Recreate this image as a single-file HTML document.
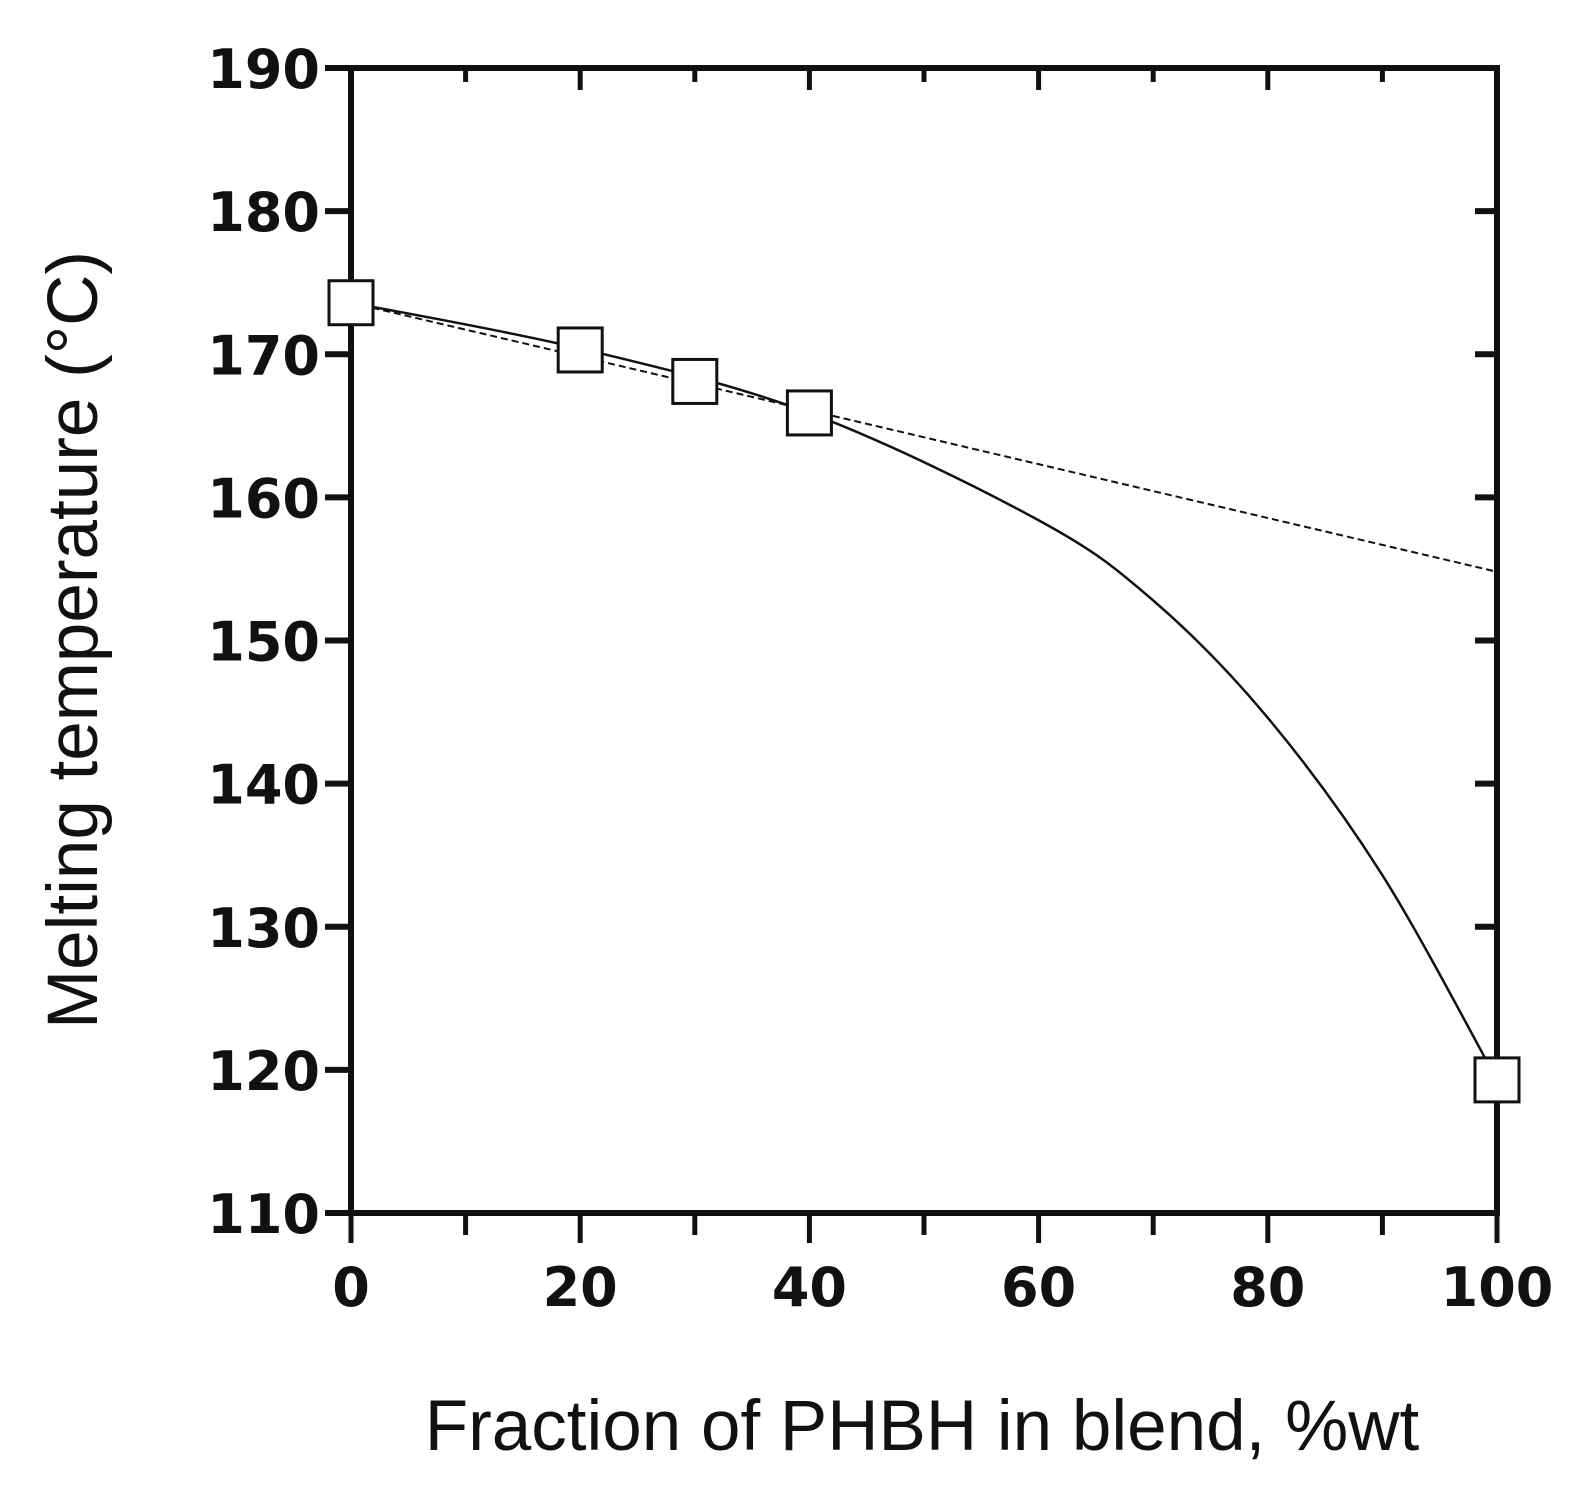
<!DOCTYPE html>
<html><head><meta charset="utf-8"><style>body{margin:0;background:#fff}svg{display:block}</style></head>
<body>
<svg id="chart" width="1590" height="1507" viewBox="0 0 1590 1507" xmlns="http://www.w3.org/2000/svg">
<g id="plot"></g>
<text transform="translate(97,640) rotate(-90)" text-anchor="middle" font-family="Liberation Sans, sans-serif" font-size="71" fill="#111">Melting temperature (°C)</text>
<text x="922" y="1450" text-anchor="middle" font-family="Liberation Sans, sans-serif" font-size="71" fill="#111">Fraction of PHBH in blend, %wt</text>
</svg>
<script>
const xTicks = [0, 20, 40, 60, 80, 100];
const yTicks = [110, 120, 130, 140, 150, 160, 170, 180, 190];
const pointX = [0, 20, 30, 40, 100];
const pointY = [173.6, 170.3, 168.1, 165.9, 119.3];
const dashX = [0, 100];
const dashY = [173.6, 154.8];
const curveX = [0, 20, 40, 60, 70, 80, 90, 100];
const curveY = [173.6, 170.4, 165.9, 158.4, 152.8, 144.6, 133.6, 119.3];

const X0 = 351, X1 = 1497, Y0 = 1213, Y1 = 68;
const sx = v => X0 + (v - 0) / 100 * (X1 - X0);
const sy = v => Y0 - (v - 110) / 80 * (Y0 - Y1);
const NS = 'http://www.w3.org/2000/svg';
const g = document.getElementById('plot');
function mk(tag, attrs) { const e = document.createElementNS(NS, tag); for (const k in attrs) e.setAttribute(k, attrs[k]); g.appendChild(e); return e; }

let fr = mk('rect', {x: X0, y: Y1, width: X1 - X0, height: Y0 - Y1, fill: 'none', stroke: '#111', 'stroke-width': 6});



for (let v = 0; v <= 100; v += 10) {
  const major = v % 20 === 0;
  let t = mk('line', {x1: sx(v), x2: sx(v), y1: Y0, y2: Y0 + (major ? 30 : 22), stroke: '#111', 'stroke-width': 5});
  
  
  let t2 = mk('line', {x1: sx(v), x2: sx(v), y1: Y1, y2: Y1 + (major ? 22 : 14), stroke: '#111', 'stroke-width': 5});
  
  
}
xTicks.forEach(v => {
  let l = mk('text', {x: sx(v), y: 1306, 'text-anchor': 'middle', 'font-family': 'DejaVu Sans, sans-serif', 'font-weight': 'bold', 'font-size': 54, fill: '#111'});
  l.textContent = v;
  
  
});
yTicks.forEach(v => {
  let t = mk('line', {x1: X0 - 26, x2: X0, y1: sy(v), y2: sy(v), stroke: '#111', 'stroke-width': 6});
  
  
  let t2 = mk('line', {x1: X1 - 22, x2: X1, y1: sy(v), y2: sy(v), stroke: '#111', 'stroke-width': 6});
  
  
  let l = mk('text', {x: 320, y: sy(v) + 20, 'text-anchor': 'end', 'font-family': 'DejaVu Sans, sans-serif', 'font-weight': 'bold', 'font-size': 54, fill: '#111'});
  l.textContent = v;
  
  
});

let dl = mk('line', {x1: sx(dashX[0]), y1: sy(dashY[0]), x2: sx(dashX[1]), y2: sy(dashY[1]), stroke: '#111', 'stroke-width': 2, 'stroke-dasharray': '7,4'});



const P = curveX.map((x, i) => [sx(x), sy(curveY[i])]);
let d = 'M' + P[0][0] + ',' + P[0][1];
for (let i = 0; i < P.length - 1; i++) {
  const p0 = P[Math.max(0, i - 1)], p1 = P[i], p2 = P[i + 1], p3 = P[Math.min(P.length - 1, i + 2)];
  const c1 = [p1[0] + (p2[0] - p0[0]) / 6, p1[1] + (p2[1] - p0[1]) / 6];
  const c2 = [p2[0] - (p3[0] - p1[0]) / 6, p2[1] - (p3[1] - p1[1]) / 6];
  d += ` C${c1[0]},${c1[1]} ${c2[0]},${c2[1]} ${p2[0]},${p2[1]}`;
}
let cv = mk('path', {d: d, fill: 'none', stroke: '#111', 'stroke-width': 2.5});



pointX.forEach((x, i) => {
  let r = mk('rect', {x: sx(x) - 22, y: sy(pointY[i]) - 22, width: 44, height: 44, fill: '#fff', stroke: '#111', 'stroke-width': 3});
  
  
});
</script>
</body></html>
